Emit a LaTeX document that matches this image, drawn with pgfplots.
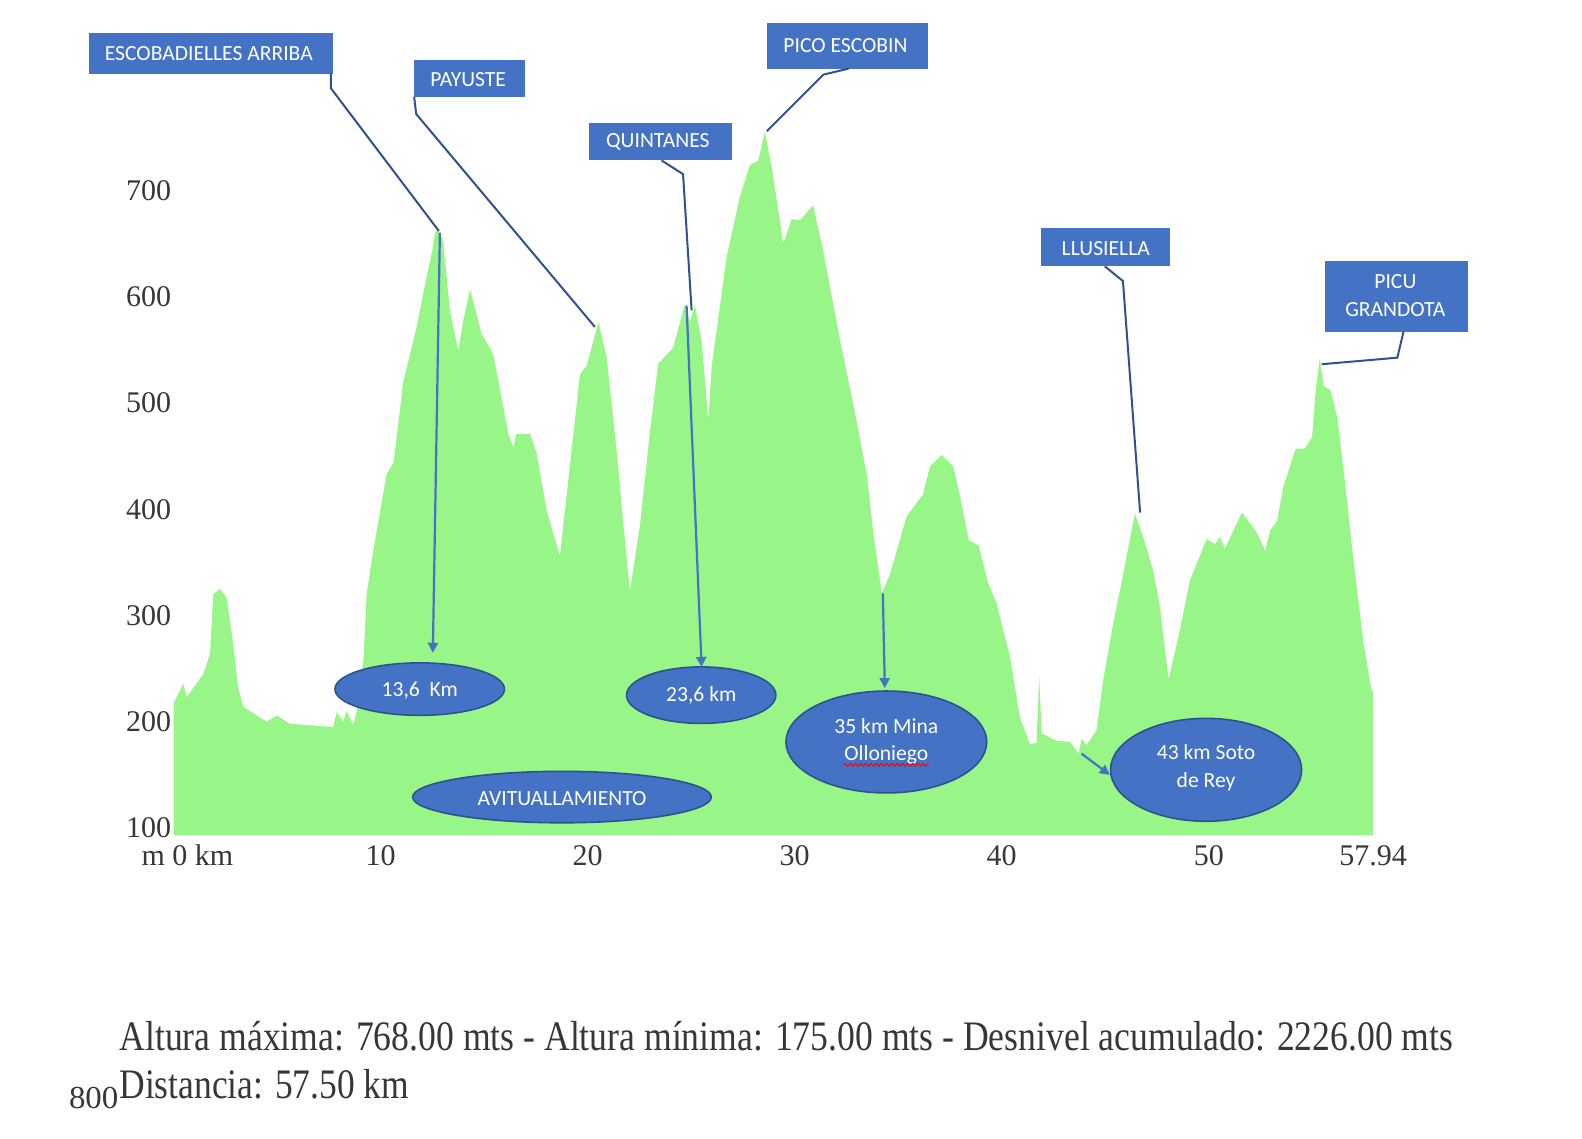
\documentclass[border=0pt]{standalone}
\usepackage{pgfplots}
\pgfplotsset{compat=1.18}
\usepackage{pgfplotstable}
\usepackage{fontspec}
\setmainfont{Liberation Serif}
\newfontfamily\calibri{Carlito}
\usetikzlibrary{arrows.meta,decorations.pathmorphing}

\definecolor{profile}{RGB}{152,245,135}
\definecolor{boxblue}{RGB}{68,114,196}
\definecolor{edgeblue}{RGB}{47,82,143}
\definecolor{labelgray}{RGB}{55,55,55}

% perfil: km, altura (m)
\pgfplotstableread{
km elev
0.00 217
0.47 236
0.63 223
1.44 245
1.76 264
1.92 320
2.24 325
2.56 317
2.88 273
3.12 232
3.37 214
4.50 200
4.98 206
5.62 198
7.07 196
7.71 195
7.88 209
8.20 200
8.36 210
8.68 197
8.85 210
9.17 258
9.33 320
9.57 352
10.29 433
10.63 444
11.09 519
11.74 571
12.05 602
12.51 645
12.63 661
12.77 662
13.01 654
13.35 587
13.75 549
14.00 578
14.32 607
14.88 565
15.44 546
16.17 471
16.41 458
16.57 471
17.22 471
17.54 452
18.02 399
18.66 356
19.14 440
19.63 527
19.95 535
20.52 576
20.92 543
21.40 455
21.73 385
22.04 323
22.53 385
23.00 471
23.41 537
24.13 552
24.70 593
24.94 577
25.18 592
25.50 559
25.83 484
25.99 534
26.71 637
27.35 694
27.84 724
28.24 728
28.56 755
28.89 722
29.45 650
29.85 673
30.25 672
30.89 686
31.38 643
32.19 559
32.83 499
33.48 433
33.80 377
34.21 321
34.61 339
35.40 393
36.20 414
36.53 440
37.10 451
37.66 440
38.00 411
38.40 371
38.88 366
39.35 330
39.76 311
40.40 261
40.88 204
41.36 179
41.68 180
41.81 242
41.93 189
42.66 182
43.30 181
43.71 170
43.87 184
44.10 178
44.58 192
44.90 239
45.38 292
45.87 339
46.43 396
46.83 374
47.32 342
47.64 308
48.06 240
48.54 280
49.09 333
49.90 372
50.30 367
50.54 374
50.78 363
51.60 397
52.32 378
52.72 361
52.97 380
53.30 389
53.60 421
54.20 457
54.64 457
54.99 468
55.15 509
55.36 542
55.55 516
55.87 512
56.20 487
56.57 427
56.97 355
57.46 276
57.86 229
57.94 229
}\profile

\begin{document}
\begin{tikzpicture}
\begin{scope}[x=0.50446pt,y=-0.50446pt]
\path[use as bounding box] (0,0) rectangle (1568,1128);
\end{scope}

\begin{axis}[
    at={(86.767pt,-417.69pt)}, anchor=south west,
    scale only axis,
    width=599.8pt, height=375.57pt,
    xmin=0, xmax=57.94,
    ymin=93, ymax=800,
    axis line style={draw=none},
    major tick length=0pt,
    xtick={0,10,20,30,40,50,57.94},
    xticklabels={\makebox[0pt][l]{\hspace*{-16pt}m 0 km},10,20,30,40,50,57.94},
    ytick={100,200,...,700},
    yticklabels={100,200,300,400,500,600,700},
    tick label style={font=\fontsize{15}{15}\selectfont, text=labelgray},
    xticklabel style={anchor=center, inner sep=0pt, yshift=-10pt},
    yticklabel style={anchor=east, inner sep=0pt, xshift=-1pt},
]
\addplot[fill=profile, draw=none] table[x=km, y=elev] {\profile} \closedcycle;
\end{axis}

\begin{scope}[x=0.50446pt,y=-0.50446pt, font=\calibri\fontsize{10.8}{13.6}\selectfont]
% cajas
\fill[boxblue] (88,33) rectangle (330,73);
\node[text=white] at (207,53) {ESCOBADIELLES ARRIBA};
\fill[boxblue] (410,59) rectangle (520,96);
\node[text=white] at (464,79) {PAYUSTE};
\fill[boxblue] (584,122) rectangle (726,159);
\node[text=white] at (652,141) {QUINTANES};
\fill[boxblue] (760,23) rectangle (920,68);
\node[text=white] at (838,45) {PICO ESCOBIN};
\fill[boxblue] (1032,226) rectangle (1160,264);
\node[text=white] at (1096,246) {LLUSIELLA};
\fill[boxblue] (1313,259) rectangle (1455,329);
\node[text=white, align=center] at (1383,293) {PICU\\GRANDOTA};

% lineas de llamada
\draw[edgeblue, line width=1pt] (328,73) -- (328,87.5) -- (435,229);
\draw[edgeblue, line width=1pt] (410.5,96) -- (412.5,113) -- (589.6,324);
\draw[edgeblue, line width=1pt] (655.7,159) -- (677,172.6) -- (685.5,307.7);
\draw[edgeblue, line width=1pt] (841,68) -- (816,74) -- (760,130);
\draw[edgeblue, line width=1pt] (1095,264) -- (1113,278.5) -- (1130,508);
\draw[edgeblue, line width=1pt] (1391,329) -- (1385,354.5) -- (1310,361);

% flechas
\draw[boxblue, line width=1.1pt, -{Triangle[length=5pt,width=5pt]}] (436,230.5) -- (429,647);
\draw[boxblue, line width=1.1pt, -{Triangle[length=5pt,width=5pt]}] (680.5,303) -- (695.4,661);
\draw[boxblue, line width=1.1pt, -{Triangle[length=5pt,width=5pt]}] (875,588) -- (877,682);
\draw[boxblue, line width=1.1pt, -{Triangle[length=5pt,width=5pt]}] (1072,747) -- (1100,768);

% elipses
\filldraw[fill=boxblue, draw=edgeblue, line width=0.8pt] (416,683) ellipse [x radius=84, y radius=26];
\node[text=white] at (416,684) {13,6\ \ Km};
\filldraw[fill=boxblue, draw=edgeblue, line width=0.8pt] (557,790) ellipse [x radius=148, y radius=25.5];
\node[text=white] at (557,791) {AVITUALLAMIENTO};
\filldraw[fill=boxblue, draw=edgeblue, line width=0.8pt] (695,689) ellipse [x radius=74, y radius=28];
\node[text=white] at (695,689) {23,6 km};
\filldraw[fill=boxblue, draw=edgeblue, line width=0.8pt] (878.5,735.4) ellipse [x radius=99.5, y radius=50.5];
\node[text=white, align=center] at (878.5,735) {35 km Mina\\Olloniego};
\draw[red, line width=0.5pt, decorate, decoration={snake, amplitude=0.7pt, segment length=2.6pt}] (836,758) -- (921,758);
\filldraw[fill=boxblue, draw=edgeblue, line width=0.8pt] (1195.4,763) ellipse [x radius=94.7, y radius=51];
\node[text=white, align=center] at (1195.4,761) {43 km Soto\\de Rey};

% texto inferior
\node[anchor=base west, inner sep=0pt, text=labelgray, font=\fontsize{21}{21}\selectfont] at (118,1041)
  {\resizebox{666.9pt}{\height}{Altura máxima: 768.00 mts - Altura mínima: 175.00 mts - Desnivel acumulado: 2226.00 mts}};
\node[anchor=base west, inner sep=0pt, text=labelgray, font=\fontsize{21}{21}\selectfont] at (118,1089)
  {\resizebox{144.8pt}{\height}{Distancia: 57.50 km}};
\node[anchor=base west, inner sep=0pt, text=labelgray, font=\fontsize{16}{16}\selectfont] at (68,1099)
  {\resizebox{24.7pt}{\height}{800}};
\end{scope}
\end{tikzpicture}
\end{document}
